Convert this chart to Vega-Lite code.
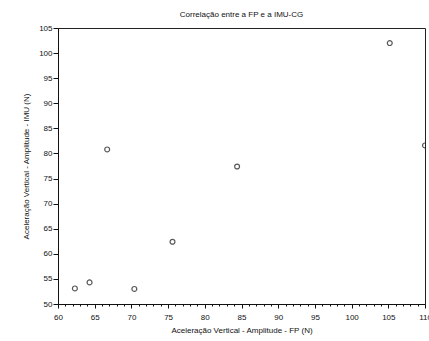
{
  "$schema": "https://vega.github.io/schema/vega-lite/v6.json",
  "width": 367,
  "height": 276,
  "autosize": {"type": "none"},
  "padding": {"left": 58, "top": 28, "right": 4, "bottom": 37},
  "background": "white",
  "title": {
    "text": "Correlação entre a FP e a IMU-CG",
    "font": "Liberation Sans",
    "fontSize": 8,
    "fontWeight": "normal",
    "color": "#111",
    "offset": 5
  },
  "config": {
    "view": {"stroke": "#222", "strokeWidth": 1},
    "axis": {
      "labelFont": "Liberation Sans",
      "titleFont": "Liberation Sans",
      "labelFontSize": 8,
      "titleFontSize": 8,
      "titleFontWeight": "normal",
      "labelColor": "#111",
      "titleColor": "#111",
      "domainColor": "#111",
      "tickColor": "#111",
      "grid": false
    }
  },
  "data": {
    "values": [
      {"fp": 62.3, "imu": 53.1},
      {"fp": 64.3, "imu": 54.3},
      {"fp": 66.7, "imu": 80.8},
      {"fp": 70.4, "imu": 53.0},
      {"fp": 75.6, "imu": 62.4},
      {"fp": 84.4, "imu": 77.4},
      {"fp": 105.2, "imu": 102.0},
      {"fp": 110.0, "imu": 81.6}
    ]
  },
  "mark": {"type": "point", "shape": "circle", "filled": false, "stroke": "#111", "strokeWidth": 1.2, "size": 24, "clip": true},
  "encoding": {
    "x": {
      "field": "fp",
      "type": "quantitative",
      "scale": {"domain": [60, 110], "nice": false, "zero": false},
      "axis": {
        "title": "Aceleração Vertical - Amplitude - FP (N)",
        "values": [60,61,62,63,64,65,66,67,68,69,70,71,72,73,74,75,76,77,78,79,80,81,82,83,84,85,86,87,88,89,90,91,92,93,94,95,96,97,98,99,100,101,102,103,104,105,106,107,108,109,110],
        "labelExpr": "datum.value % 5 === 0 ? datum.label : ''",
        "tickSize": {"condition": {"test": "datum.value % 5 === 0", "value": 4}, "value": 2},
        "labelPadding": 5,
        "titlePadding": 5,
        "labelFlush": false,
        "labelOverlap": false
      }
    },
    "y": {
      "field": "imu",
      "type": "quantitative",
      "scale": {"domain": [50, 105], "nice": false, "zero": false},
      "axis": {
        "title": "Aceleração Vertical - Amplitude - IMU (N)",
        "values": [50,55,60,65,70,75,80,85,90,95,100,105],
        "tickSize": 5,
        "labelPadding": 1,
        "titlePadding": 8,
        "labelFlush": false
      }
    }
  }
}
